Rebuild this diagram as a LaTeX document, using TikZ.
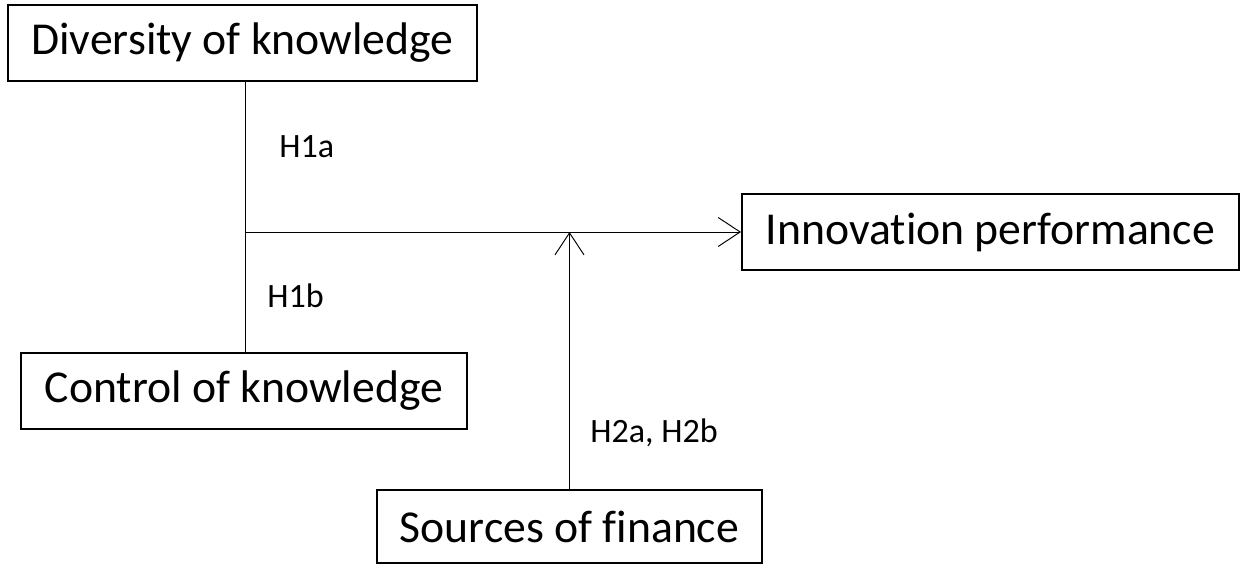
\documentclass[tikz,border=0pt]{standalone}
\usepackage{fontspec}
\setmainfont{Carlito}[Ligatures=CommonOff]
\usetikzlibrary{arrows.meta, positioning, calc}

\begin{document}
\begin{tikzpicture}[
   font=\fontsize{26}{30}\selectfont,
   >={Straight Barb[length=0.44cm, width=0.58cm]},
   box/.style={draw, line width=1.1pt, align=center, inner sep=0pt,
               minimum height=1.52cm, minimum width=#1},
   hyp/.style={font=\fontsize{19.4}{22}\selectfont, inner sep=0pt, anchor=base west},
   link/.style={line width=0.55pt},
]
\useasboundingbox (0,0) rectangle (24.82,-11.3);

% ---- constructs ----
\node[box=9.38cm] (div)   at (4.85,-0.86)  {Diversity of knowledge};
\node[box=8.92cm] (ctrl)  at (4.88,-7.82)  {Control of knowledge};
\node[box=9.94cm] (innov) at (19.81,-4.64) {Innovation performance};
\node[box=7.70cm, minimum height=1.46cm] (src) at (11.39,-10.53) {Sources of finance};

% ---- junction of the knowledge paths ----
\coordinate (j) at (4.9,-4.64);

% ---- arrows ----
\draw[link] (div.south -| j) -- (ctrl.north -| j);
\draw[link, ->] (j) -- (innov.west);
\draw[link, ->] (src.north) -- (src.north |- j);

% ---- hypotheses ----
\node[hyp] (h1a) at (5.58,-3.16) {H1a};
\node[hyp] (h1b) at (5.34,-6.16) {H1b};
\node[hyp] (h2)  at (11.8,-8.86) {H2a, H2b};
\end{tikzpicture}
\end{document}
